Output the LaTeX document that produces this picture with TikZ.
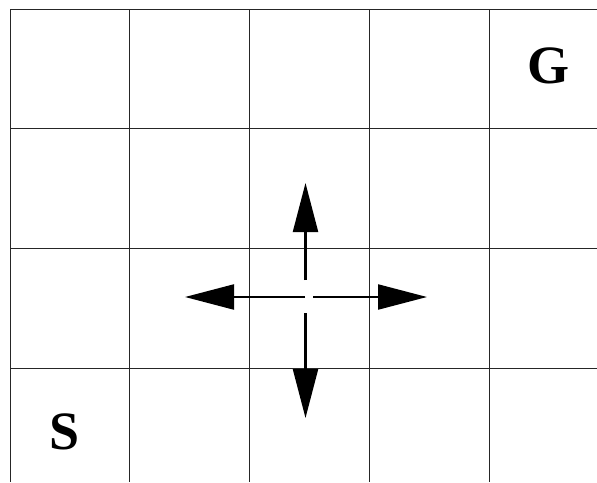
\documentclass[tikz,border=0pt]{standalone}
\usepackage{fontspec}
\setmainfont{Liberation Serif}
\usetikzlibrary{arrows.meta}
\begin{document}
\begin{tikzpicture}[x=1pt,y=-1pt,
  gridline/.style={line width=1.2pt,black!85},
  movearrow/.style={line width=2.2pt,-{Triangle[length=49pt,width=25pt]}},
  celllabel/.style={font=\fontsize{54}{54}\selectfont\bfseries,inner sep=0pt}]
\useasboundingbox (0,0) rectangle (597,482);
\draw[gridline] (10,9.5) -- (597,9.5);
\foreach \y in {128.5,248.5,368.5} \draw[gridline] (10,\y) -- (597,\y);
\foreach \x in {10.5,129.5,249.5,369.5,489.5} \draw[gridline] (\x,9.5) -- (\x,482);
\node[celllabel] (G) at (548.5,66) {G};
\node[celllabel] (S) at (64.5,432) {S};
\coordinate (cu) at (305.5,280);
\coordinate (tu) at (305.5,183);
\coordinate (cd) at (305.5,313);
\coordinate (td) at (305.5,418);
\coordinate (cl) at (305,297);
\coordinate (tl) at (185,297);
\coordinate (cr) at (313,297);
\coordinate (tr) at (427,297);
\draw[movearrow] (cu) -- (tu);
\draw[movearrow] (cd) -- (td);
\draw[movearrow] (cl) -- (tl);
\draw[movearrow] (cr) -- (tr);
\end{tikzpicture}
\end{document}
